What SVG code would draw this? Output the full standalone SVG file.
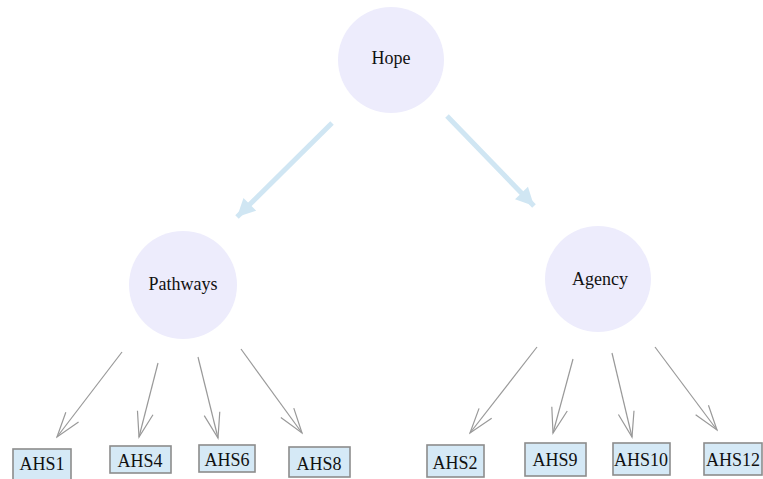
<svg xmlns="http://www.w3.org/2000/svg" width="763" height="479" viewBox="0 0 763 479">
<style>
.circ{fill:#edecfc;stroke:none}
.lbl{font-family:"Liberation Serif","Times New Roman",serif;font-size:18px;fill:#111;text-anchor:middle}
.box{fill:#d5e9f6;stroke:#8c8c8c;stroke-width:1.6}
.thick{stroke:#d0e6f3;stroke-width:5;fill:none}
.thin{stroke:#999;stroke-width:1.2;fill:none}
</style>
<defs>
<marker id="bigHead" markerUnits="userSpaceOnUse" markerWidth="24" markerHeight="24" viewBox="-20 -12 24 24" refX="0" refY="0" orient="auto">
<path d="M-18,-9 L0,0 L-18,9 z" fill="#d0e6f3"/>
</marker>
<marker id="openHead" markerUnits="userSpaceOnUse" markerWidth="30" markerHeight="24" viewBox="-28 -12 30 24" refX="0" refY="0" orient="auto">
<path d="M-25,-8 L0,0 L-25,8" fill="none" stroke="#999" stroke-width="1.2"/>
</marker>
</defs>
<rect width="763" height="479" fill="#fff"/>
<g id="connectors">
<line class="thick" x1="332" y1="123" x2="237" y2="217" marker-end="url(#bigHead)"/>
<line class="thick" x1="447" y1="116" x2="534" y2="206" marker-end="url(#bigHead)"/>
<line class="thin" x1="122" y1="352" x2="57" y2="437" marker-end="url(#openHead)"/>
<line class="thin" x1="158" y1="363" x2="139" y2="437" marker-end="url(#openHead)"/>
<line class="thin" x1="198" y1="357" x2="218" y2="438" marker-end="url(#openHead)"/>
<line class="thin" x1="241" y1="349" x2="302" y2="433" marker-end="url(#openHead)"/>
<line class="thin" x1="537" y1="347" x2="470" y2="433" marker-end="url(#openHead)"/>
<line class="thin" x1="573" y1="359" x2="553" y2="433" marker-end="url(#openHead)"/>
<line class="thin" x1="612" y1="353" x2="632" y2="437" marker-end="url(#openHead)"/>
<line class="thin" x1="655" y1="347" x2="717" y2="430" marker-end="url(#openHead)"/>
</g>
<g id="hope"><circle class="circ" cx="391" cy="60" r="53"/><text class="lbl" x="391" y="64">Hope</text></g>
<g id="pathways"><circle class="circ" cx="183" cy="285" r="54"/><text class="lbl" x="183" y="290">Pathways</text></g>
<g id="agency"><circle class="circ" cx="598" cy="279" r="53"/><text class="lbl" x="600" y="285">Agency</text></g>
<g id="ahs1"><rect class="box" x="13" y="449" width="58" height="32"/><text class="lbl" x="42" y="470">AHS1</text></g>
<g id="ahs4"><rect class="box" x="110" y="446" width="61" height="27"/><text class="lbl" x="140" y="467">AHS4</text></g>
<g id="ahs6"><rect class="box" x="199" y="445" width="56" height="27"/><text class="lbl" x="227" y="466">AHS6</text></g>
<g id="ahs8"><rect class="box" x="289" y="447" width="61" height="30"/><text class="lbl" x="319" y="470">AHS8</text></g>
<g id="ahs2"><rect class="box" x="427" y="445" width="57" height="32"/><text class="lbl" x="455" y="469">AHS2</text></g>
<g id="ahs9"><rect class="box" x="525" y="443" width="61" height="33"/><text class="lbl" x="555" y="466">AHS9</text></g>
<g id="ahs10"><rect class="box" x="613" y="443" width="57" height="32"/><text class="lbl" x="641" y="466">AHS10</text></g>
<g id="ahs12"><rect class="box" x="704" y="443" width="58" height="32"/><text class="lbl" x="733" y="466">AHS12</text></g>
</svg>
